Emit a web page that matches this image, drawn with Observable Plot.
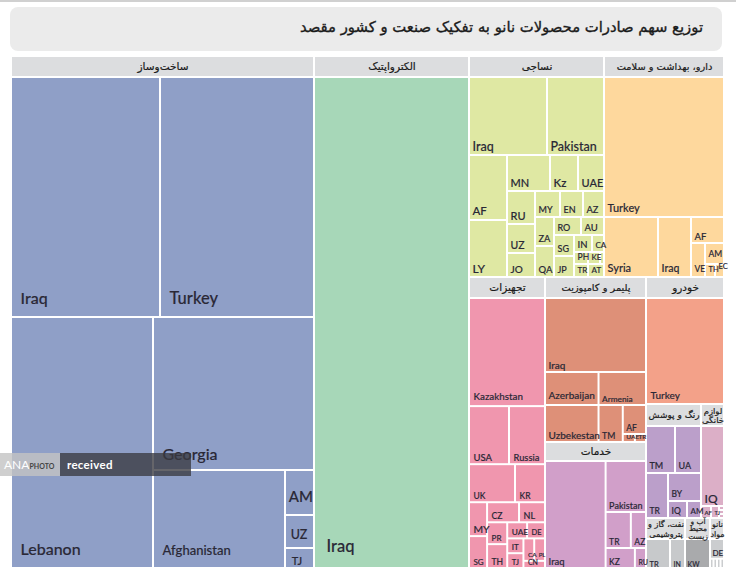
<!DOCTYPE html>
<html><head><meta charset="utf-8">
<script src="https://cdn.jsdelivr.net/npm/d3@7"></script>
<script src="https://cdn.jsdelivr.net/npm/@observablehq/plot@0.6"></script>
<style>
html,body{margin:0;padding:0;background:#fff;overflow:hidden}
#page{position:relative;width:736px;height:588px}
#rule{position:absolute;left:0;top:0;width:736px;height:2px;background:#d0d0d0}
#title{position:absolute;left:10px;top:7px;width:712px;height:44px;background:#ebebeb;border-radius:8px;
 direction:rtl;font:400 14.8px "DejaVu Sans",sans-serif;-webkit-text-stroke:.35px #1a1a1a;line-height:40px;color:#1a1a1a;text-indent:19px}
#chart{position:absolute;left:0;top:56px}
.wm{position:absolute;top:453px;height:23px;line-height:23px;font-family:Lato,sans-serif;color:#fff;white-space:nowrap}
#wm1{left:0;width:60px;background:rgba(195,195,195,.8);font-size:12px;text-indent:4px}
#wm1 small{font-size:7px;font-weight:700;color:#444}
#wm2{left:60px;width:131px;background:rgba(58,58,64,.78);font-size:11.5px;font-weight:700;text-indent:7px;letter-spacing:.3px}
</style></head><body>
<div id="page"><div id="rule"></div>
<div id="title">توزیع سهم صادرات محصولات نانو به تفکیک صنعت و کشور مقصد</div>
<div id="chart"></div>
<div class="wm" id="wm1">ANA<small>PHOTO</small></div><div class="wm" id="wm2">received</div>
</div>
<script>
// Industries and their estimated share (area)
const groupNames = ["ساخت‌وساز","الکترواپتیک","نساجی","دارو، بهداشت و سلامت","تجهیزات","پلیمر و کامپوزیت","خدمات","خودرو","رنگ و پوشش","لوازم\nخانگی","نفت، گاز و\nپتروشیمی","آب و\nمحیط\nزیست","نانو\nمواد"];
const groupShares = [155136,79360,29835,26520,22116,16665,12726,9906,6270,2622,1950,1250,700];
const groupColors = ["#8f9fc7","#a7d7b8","#dfe8a3","#fed89d","#f096ae","#de9078","#d19fc9","#f3a189","#bb9fca","#dcafc7","#c7c9cb","#a9aaac","#cbcdcf"];

// Destination countries per industry
const constructionNames = ["Iraq","Turkey","Lebanon","Georgia","Afghanistan","AM","UZ","TJ"];
const constructionValues = [35760,36960,35642,24633,12936,1305,957,580];
const electronicsNames = ["Iraq"];
const electronicsValues = [1];
const textileNames = ["Iraq","Pakistan","AF","LY","MN","Kz","UAE","RU","UZ","JO","MY","EN","AZ","ZA","QA","RO","AU","SG","JP","IN","CA","PH","KE","","TR","AT"];
const textileValues = [6084,4446,2470,2166,1548,1008,936,924,812,672,650,598,546,551,589,486,414,420,420,306,204,168,144,48,182,208];
const pharmaNames = ["Turkey","Syria","Iraq","AF","VE","AM","TH","EC"];
const pharmaValues = [16800,3240,1980,858,476,399,130,117];
const equipmentNames = ["Kazakhstan","USA","Russia","UK","KR","MY","SG","CZ","NL","PR","TH","UAE","DE","IT","TJ","CA","PL","CN"];
const equipmentValues = [8208,2320,2088,1748,1140,612,576,640,520,440,480,320,288,240,240,242,242,154];
const polymerNames = ["Iraq","Azerbaijan","Armenia","Uzbekestan","TM","AF","UAE","TR"];
const polymerValues = [7400,1749,1551,1961,888,667,96,88];
const servicesNames = ["Iraq","Pakistan","TR","AZ","KZ","RU"];
const servicesValues = [6420,2040,900,540,580,220];
const automotiveNames = ["Turkey"];
const automotiveValues = [1];
const paintNames = ["TM","UA","TR","BY","IQ","AM"];
const paintValues = [1363,1222,990,924,323,238];
const homeNames = ["IQ","AF","TJ","","",""];
const homeValues = [1840,120,96,20,20,20];
const oilNames = ["TR","IN"];
const oilValues = [672,420];
const waterNames = ["KW"];
const waterValues = [1];
const nanoNames = ["DE","","","",""];
const nanoValues = [247,29,29,29,29];

// Nesting order of the treemap (V = stacked rows, H = side-by-side columns; numbers index the lists)
const V = (...kids) => ({dir: "v", kids});
const H = (...kids) => ({dir: "h", kids});
const groupTree = H(0,1,V(H(2,3),H(4,V(5,6),V(7,H(8,9),H(10,11,12)))));
const trees = [
  V(H(0,1),H(2,V(3,H(4,V(5,6,7))))),
  0,
  V(H(0,1),H(V(2,3),V(H(4,5,6),H(V(7,8,9),V(H(10,11,12),H(V(13,14),V(H(15,16),H(V(17,18),V(H(19,20),H(21,22,23),H(24,25)))))))))),
  V(0,H(1,2,V(3,H(4,V(5,H(6,7)))))),
  V(0,H(1,2),H(3,4),H(V(5,6),V(H(7,8),H(V(9,10),V(H(11,12),H(V(13,14),V(H(15,16),17))))))),
  V(0,H(1,2),H(3,4,V(5,H(6,7)))),
  H(0,V(1,H(2,3),H(4,5))),
  0,
  V(H(0,1),H(2,V(3,H(4,5)))),
  V(0,H(1,2,V(3,4,5))),
  H(0,1),
  0,
  V(0,H(1,2,3,4))
];
const groupLists = [
  [constructionNames,constructionValues],[electronicsNames,electronicsValues],[textileNames,textileValues],
  [pharmaNames,pharmaValues],[equipmentNames,equipmentValues],[polymerNames,polymerValues],[servicesNames,servicesValues],
  [automotiveNames,automotiveValues],[paintNames,paintValues],[homeNames,homeValues],[oilNames,oilValues],[waterNames,waterValues],[nanoNames,nanoValues]
];

// Styling per industry (separate from the values)
const headerPx  = [21,21,21,21,21,21,19,21,22,22,21,21,21];
const headerFs  = [10.5,10.5,10.5,9.8,10.5,9.8,10.5,10.5,9,8.5,8,7.5,8];
const headerLh  = [1,1,1,1,1,1,1,1,1,1.05,1.25,1,1.15];
const labelSizes = [
  [16,16.5,16,16,13,15,12.5,11],
  [16.5],
  [12.5,12.5,11.5,12,11,11.5,11,11,10.5,10,9,9,9.3,9.3,9.5,9,9.5,9,9,9.5,8,8.5,8,8,8,8],
  [11,11,10.5,9.5,8.5,8.5,7.5,7.5],
  [9.8,9.5,9.3,8.5,8.5,10.3,8,8.7,9,8,8.5,8.3,7.5,8,7.5,6.5,6,7],
  [10,10,8.3,10,8.7,8.5,6.5,6.5],
  [9.5,9,8.5,8.5,8.5,7],
  [10],
  [9,9,8.5,8.5,8.5,8],
  [12,6,5.5,6,6,6],
  [7.5,7],
  [7],
  [8,6,6,6,6]
];
const labelPadX = [8,11,2,2,3,2,2,3,2,2,2,1,1];
const labelPadY = [13,16,4,5,3,3,3,5,4,3,1,1,2];
const extraPadY = {"0:Georgia": -3, "5:Azerbaijan": 3, "4:Kazakhstan": 3, "2:AF": 1, "3:AF": -2, "3:AM": 2, "3:EC": 3};

const W = 736, H_PX = 512, MX0 = 11, MX1 = 12, PLOT_W = W - MX0 - MX1;
const weight = (n, vals) => typeof n === "number" ? vals[n] : d3.sum(n.kids, k => weight(k, vals));
function tile(n, vals, x0, y0, x1, y1, leaf) {
  if (typeof n === "number") return leaf(n, x0, y0, x1, y1);
  const total = weight(n, vals);
  let p = n.dir === "h" ? x0 : y0;
  for (const k of n.kids) {
    const f = weight(k, vals) / total;
    if (n.dir === "h") { const q = p + (x1 - x0) * f; tile(k, vals, p, y0, q, y1, leaf); p = q; }
    else { const q = p + (y1 - y0) * f; tile(k, vals, x0, p, x1, q, leaf); p = q; }
  }
}
const headers = [], cells = [];
tile(groupTree, groupShares, 0, 0, 1, 1, (g, x0, y0, x1, y1) => {
  const yh = y0 + headerPx[g] / H_PX;
  headers.push({group: g, name: groupNames[g], x1: x0, x2: x1, y1: y0, y2: yh});
  const [names, vals] = groupLists[g];
  tile(trees[g], vals, x0, yh, x1, y1, (i, a, b, c, d) => {
    const w = (c - a) * PLOT_W, h = (d - b) * H_PX, nm = names[i], fs = labelSizes[g][i];
    // the narrow construction cells centre their labels; every other one sits bottom-left
    const small = g === 0 && w < 40;
    const px = small ? (w - fs * nm.length * 0.75) / 2 : labelPadX[g] + 1;
    const py = small ? h / 2 - fs * 0.5 - 1 : labelPadY[g] + 1 + (extraPadY[g + ":" + nm] || 0);
    cells.push({group: groupNames[g], g, name: nm, value: vals[i], x1: a, x2: c, y1: b, y2: d, fs,
      lx: a + px / PLOT_W, ly: d - py / H_PX});
  });
});

const plot = Plot.plot({
  width: W, height: H_PX,
  marginLeft: MX0, marginRight: MX1, marginTop: 0, marginBottom: 0,
  x: {domain: [0, 1], axis: null},
  y: {domain: [0, 1], reverse: true, axis: null},
  color: {domain: groupNames, range: groupColors},
  marks: [
    Plot.rect(headers, {x1: "x1", x2: "x2", y1: "y1", y2: "y2", inset: 1, fill: "#dcdddf"}),
    Plot.rect(cells, {x1: "x1", x2: "x2", y1: "y1", y2: "y2", inset: 1, fill: "group"}),
    ...headerFs.map((fs, g) => Plot.text(headers.filter(d => d.group === g), {
      x: d => (d.x1 + d.x2) / 2, y: d => (d.y1 + d.y2) / 2, text: "name",
      fontSize: fs, fill: "#1a1a1a", stroke: "#1a1a1a", strokeWidth: 0.2,
      fontFamily: '"DejaVu Sans",sans-serif', lineHeight: headerLh[g]
    })),
    Plot.text(cells.filter(d => d.name), {
      x: "lx", y: "ly", text: "name", fontSize: "fs", textAnchor: "start", lineAnchor: "bottom",
      fill: "#2a2836", stroke: "#2a2836", strokeWidth: 0.15,
      fontFamily: 'Lato,"Open Sans",sans-serif', fontWeight: 500
    })
  ]
});
document.getElementById("chart").appendChild(plot);
</script>
</body></html>
